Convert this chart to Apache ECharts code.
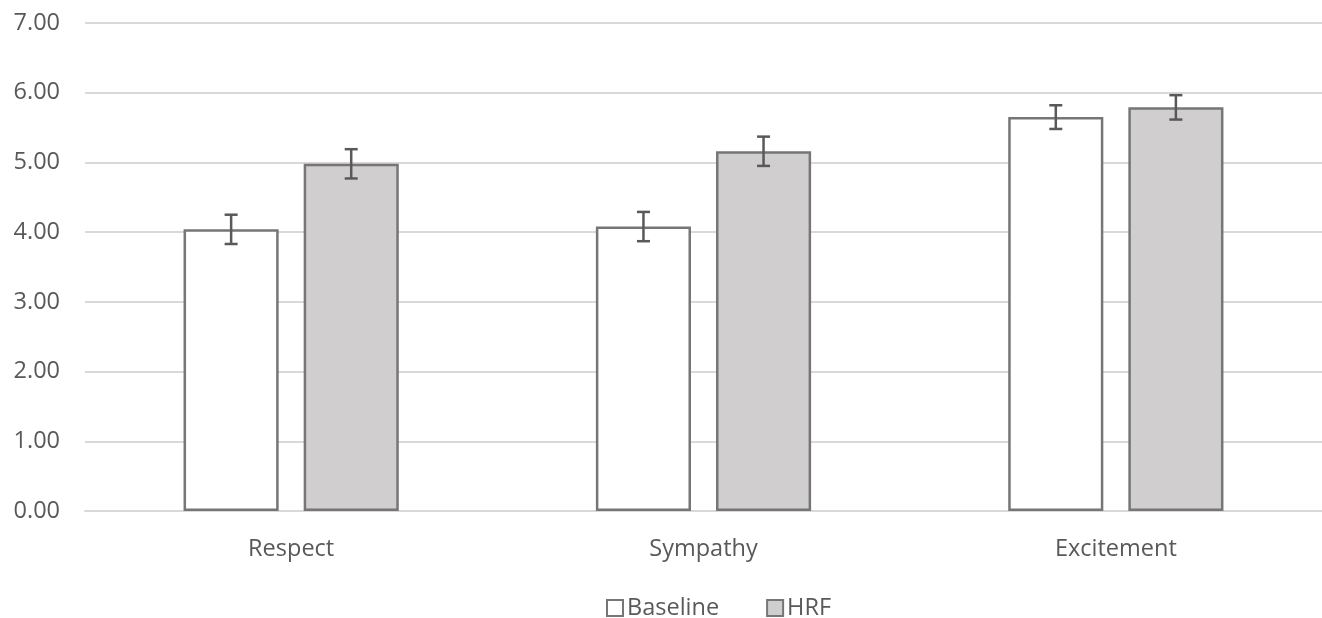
<!DOCTYPE html>
<html><head><meta charset="utf-8">
<script src="https://cdn.jsdelivr.net/npm/echarts@6/dist/echarts.min.js"></script>
<style>html,body{margin:0;padding:0;background:#fff}#c{width:1322px;height:618px}</style>
</head><body><div id="c"></div>
<script>
const categories = ['Respect', 'Sympathy', 'Excitement'];
const baseline = [4.04, 4.08, 5.65];
const baselineErr = [0.21, 0.21, 0.17];
const hrf = [4.98, 5.16, 5.79];
const hrfErr = [0.21, 0.21, 0.175];
const yTicks = [0, 1, 2, 3, 4, 5, 6, 7];

const FONT = 'Open Sans';
const FS = 23.5;
const BAR_FRAC = 0.2306, GAP_FRAC = 0.263;

function errSeries(vals, errs, side) {
  return {
    type: 'custom', z: 10, silent: true,
    data: vals.map((v, i) => [i, v - errs[i], v + errs[i]]),
    renderItem: function (params, api) {
      const band = api.size([1, 0])[0];
      const w = band * BAR_FRAC;
      const off = side * (w + w * GAP_FRAC) / 2;
      const lo = api.coord([api.value(0), api.value(1)]);
      const hi = api.coord([api.value(0), api.value(2)]);
      const x = lo[0] + off, cap = 6.5;
      const st = { stroke: '#595959', lineWidth: 2.5 };
      return { type: 'group', children: [
        { type: 'line', shape: { x1: x, y1: lo[1], x2: x, y2: hi[1] }, style: st },
        { type: 'line', shape: { x1: x - cap, y1: lo[1], x2: x + cap, y2: lo[1] }, style: st },
        { type: 'line', shape: { x1: x - cap, y1: hi[1], x2: x + cap, y2: hi[1] }, style: st }
      ]};
    }
  };
}

const chart = echarts.init(document.getElementById('c'));
chart.setOption({
  animation: false,
  textStyle: { fontFamily: FONT },
  grid: { left: 85, right: 0, top: 23, bottom: 107 },
  legend: {
    top: 591, left: 601, itemGap: 47, itemWidth: 16, itemHeight: 16,
    icon: 'rect',
    textStyle: { fontSize: FS, color: '#595959', fontFamily: FONT, padding: [0, 0, 0, -1] },
    data: ['Baseline', 'HRF']
  },
  xAxis: {
    type: 'category', data: categories,
    axisLine: { lineStyle: { color: '#d9d9d9', width: 2 } },
    axisTick: { show: false },
    axisLabel: { fontSize: FS, color: '#595959', margin: 26 }
  },
  yAxis: {
    type: 'value', min: yTicks[0], max: yTicks[yTicks.length - 1], interval: 1,
    axisLine: { show: false }, axisTick: { show: false },
    splitLine: { lineStyle: { color: '#d9d9d9', width: 2 } },
    axisLabel: { fontSize: FS, color: '#595959', margin: 25, formatter: v => v.toFixed(2) }
  },
  series: [
    { name: 'Baseline', type: 'bar', data: baseline, barGap: (GAP_FRAC * 100) + '%',
      barCategoryGap: ((1 - BAR_FRAC * (2 + GAP_FRAC)) * 100).toFixed(1) + '%',
      itemStyle: { color: '#ffffff', borderColor: '#767676', borderWidth: 2.5 } },
    { name: 'HRF', type: 'bar', data: hrf,
      itemStyle: { color: '#d0cece', borderColor: '#767676', borderWidth: 2.5 } },
    errSeries(baseline, baselineErr, -1),
    errSeries(hrf, hrfErr, 1)
  ]
});
</script>
</body></html>
